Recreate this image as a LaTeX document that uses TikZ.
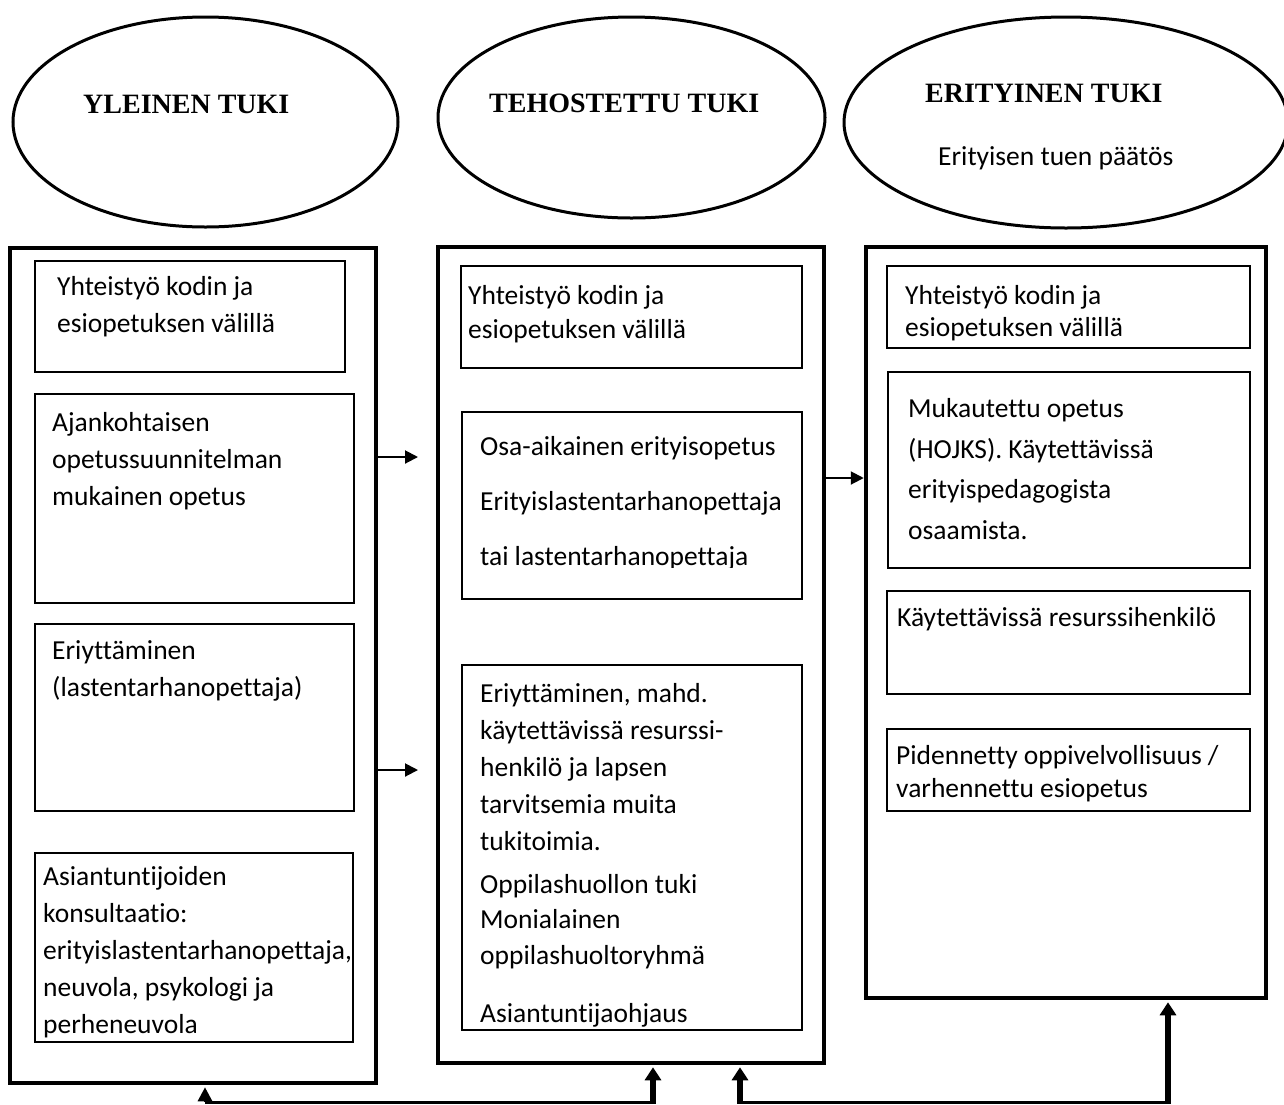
\documentclass[tikz,border=0pt]{standalone}
\usepackage{fontspec}
\setmainfont{Carlito}[Ligatures=CommonOff]
\newfontfamily\headfont{Liberation Serif}
\usetikzlibrary{shapes.geometric,arrows.meta}
\begin{document}
\begin{tikzpicture}[x=1pt,y=-1pt,
  oval/.style={draw,ellipse,line width=3pt,inner sep=0pt},
  outerbox/.style={draw,rectangle,line width=4.5pt,inner sep=0pt},
  inbox/.style={draw,rectangle,line width=1.8pt,inner sep=0pt},
  head/.style={font=\headfont\bfseries\fontsize{28}{32}\selectfont,inner sep=0pt,anchor=base west},
  txt/.style={font=\fontsize{27.5}{#1}\selectfont,inner sep=0pt,anchor=base west,align=left},
  txt/.default=37,
  conn/.style={line width=2pt,-{Triangle[length=13pt,width=13pt]}},
  thinconn/.style={line width=3pt,-{Triangle[length=14pt,width=14pt]},shorten >=2pt},
  thickconn/.style={line width=6pt,-{Triangle[length=13pt,width=16pt]},shorten >=2pt},
  plainline/.style={line width=3pt}
]
\useasboundingbox (0,0) rectangle (1284,1104);

% ellipses
\node[oval,minimum width=385pt,minimum height=210pt] (e1) at (205.5,122) {};
\node[oval,minimum width=387pt,minimum height=201pt] (e2) at (631.5,117.5) {};
\node[oval,minimum width=444pt,minimum height=211pt] (e3) at (1066,122.5) {};
\node[head] (h1) at (83,113) {YLEINEN TUKI};
\node[head] (h2) at (489,112) {TEHOSTETTU TUKI};
\node[head] (h3) at (925,102) {ERITYINEN TUKI};
\node[txt] (h3b) at (938,165) {Erityisen tuen päätös};

% outer boxes
\node[outerbox,minimum width=366pt,minimum height=835pt] (p1) at (193,665.5) {};
\node[outerbox,minimum width=386pt,minimum height=816pt] (p2) at (631,655) {};
\node[outerbox,minimum width=400pt,minimum height=751pt] (p3) at (1066,622.5) {};

% inner boxes column 1
\node[inbox,minimum width=310pt,minimum height=111pt] (a1) at (190,316.5) {};
\node[inbox,minimum width=319pt,minimum height=209pt] (a2) at (194.5,498.5) {};
\node[inbox,minimum width=319pt,minimum height=187pt] (a3) at (194.5,717.5) {};
\node[inbox,minimum width=318pt,minimum height=189pt] (a4) at (194,947.5) {};
\node[txt] (ta1) at (57,332) {Yhteistyö kodin ja\\esiopetuksen välillä};
\node[txt] (ta2) at (52,505) {Ajankohtaisen\\opetussuunnitelman\\mukainen opetus};
\node[txt] (ta3) at (52,696) {Eriyttäminen\\(lastentarhanopettaja)};
\node[txt] (ta4) at (43,1033) {Asiantuntijoiden\\konsultaatio:\\erityislastentarhanopettaja,\\neuvola, psykologi ja\\perheneuvola};

% inner boxes column 2
\node[inbox,minimum width=341pt,minimum height=102pt] (b1) at (631.5,317) {};
\node[inbox,minimum width=340pt,minimum height=187pt] (b2) at (632,505.5) {};
\node[inbox,minimum width=340pt,minimum height=365pt] (b3) at (632,847.5) {};
\node[txt=34] (tb1) at (468,338) {Yhteistyö kodin ja\\esiopetuksen välillä};
\begin{scope}
\clip (470,420) rectangle (800,567);
\node[txt=55] (tb2) at (480,565) {Osa-aikainen erityisopetus\\Erityislastentarhanopettaja\\tai lastentarhanopettaja};
\end{scope}
\node[txt] (tb3) at (480,1022) {Eriyttäminen, mahd.\\käytettävissä resurssi-\\henkilö ja lapsen\\tarvitsemia muita\\tukitoimia.\\[6pt]Oppilashuollon tuki\\[-2pt]Monialainen\\[-1pt]oppilashuoltoryhmä\\[21pt]Asiantuntijaohjaus};

% inner boxes column 3
\node[inbox,minimum width=363pt,minimum height=82pt] (c1) at (1068.5,307) {};
\node[inbox,minimum width=362pt,minimum height=196pt] (c2) at (1069,470) {};
\node[inbox,minimum width=363pt,minimum height=103pt] (c3) at (1068.5,642.5) {};
\node[inbox,minimum width=363pt,minimum height=82pt] (c4) at (1068.5,770) {};
\node[txt=32] (tc1) at (905,336) {Yhteistyö kodin ja\\esiopetuksen välillä};
\node[txt=40.5] (tc2) at (908,539) {Mukautettu opetus\\(HOJKS). Käytettävissä\\erityispedagogista\\osaamista.};
\node[txt] (tc3) at (897,626) {Käytettävissä resurssihenkilö};
\node[txt=33] (tc4) at (896,797) {Pidennetty oppivelvollisuus /\\varhennettu esiopetus};

% horizontal arrows
\coordinate (ha) at (418,457);
\coordinate (hb) at (418,770);
\coordinate (hc) at (0,478);
\draw[conn] (p1.east |- ha) -- (ha);
\draw[conn] (p1.east |- hb) -- (hb);
\draw[conn] (p2.east |- hc) -- (p3.west |- hc);

% bottom connectors
\coordinate (k1) at (205,1102);
\coordinate (k2) at (653,1102);
\coordinate (k3) at (740,1102);
\coordinate (k4) at (1168,1102);
\draw[plainline] (k2) -- (k1);
\draw[thinconn] (k1) -- (k1 |- p1.south);
\draw[thickconn] ([yshift=-1.5pt]k2) -- (k2 |- p2.south);
\draw[plainline] (k3) -- (k4);
\draw[thickconn] ([yshift=-1.5pt]k3) -- (k3 |- p2.south);
\draw[thickconn] ([yshift=-1.5pt]k4) -- (k4 |- p3.south);
\end{tikzpicture}
\end{document}
